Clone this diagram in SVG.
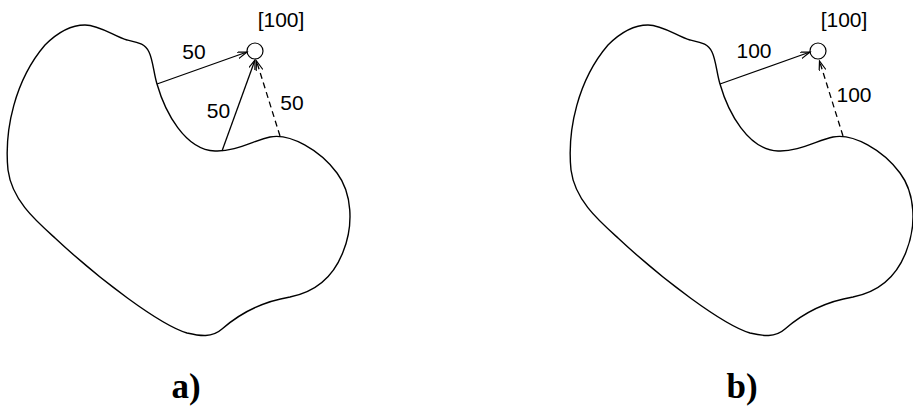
<svg xmlns="http://www.w3.org/2000/svg" width="913" height="409" viewBox="0 0 913 409">
<style>
.outline{fill:none;stroke:#000;stroke-width:1.4}
.node{fill:#fff;stroke:#000;stroke-width:1.2}
.edge{fill:none;stroke:#000;stroke-width:1.3;marker-end:url(#arr)}
.dash{stroke-dasharray:6,4}
.lbl{font-family:"Liberation Sans",Arial,sans-serif;font-size:21px;fill:#000;text-anchor:middle}
.cap{font-family:"Liberation Serif","Times New Roman",serif;font-size:35px;font-weight:bold;fill:#000;text-anchor:middle}
</style>
<defs>
<path id="blob" d="M 85,25 C 100,25 115,37 127,40 C 140,43 145,44 149,52 C 153,60 154,75 157,84 C 165,112 185,150 215,151 C 235,152 255,140 270,137 C 290,133 320,150 337,173 C 352,193 354,225 343,252 C 333,278 315,292 290,297 C 260,302 238,315 222,329 C 212,338 200,336 187,333 C 160,325 100,280 55,238 C 35,220 12,200 8,170 C 4,130 15,80 45,45 C 60,30 72,25 85,25 Z"/>
<marker id="arr" markerUnits="userSpaceOnUse" markerWidth="12" markerHeight="10" refX="10" refY="3.5" orient="auto">
<path d="M0,0 L10,3.5 L0,7" fill="none" stroke="#000" stroke-width="1.2"/>
</marker>
</defs>
<g id="region-a"><use href="#blob" class="outline"/></g>
<g id="target-a"><circle cx="255" cy="51" r="8" class="node"/><text class="lbl" x="281" y="27">[100]</text></g>
<g id="region-b"><use href="#blob" class="outline" transform="translate(563,0)"/></g>
<g id="target-b"><circle cx="818" cy="51" r="8" class="node"/><text class="lbl" x="844" y="27">[100]</text></g>
<g id="connectors">
<line x1="157" y1="84" x2="247" y2="52" class="edge"/>
<line x1="222" y1="151" x2="255" y2="60" class="edge"/>
<line x1="280" y1="136" x2="256.5" y2="61" class="edge dash"/>
<line x1="720" y1="84" x2="810" y2="52" class="edge"/>
<line x1="843" y1="136" x2="819.5" y2="61" class="edge dash"/>
</g>
<g id="labels">
<text class="lbl" x="194" y="59">50</text>
<text class="lbl" x="218.5" y="118">50</text>
<text class="lbl" x="292" y="110">50</text>
<text class="lbl" x="754" y="58">100</text>
<text class="lbl" x="854" y="102">100</text>
<text class="cap" x="186" y="398">a)</text>
<text class="cap" x="742" y="398">b)</text>
</g>
</svg>
